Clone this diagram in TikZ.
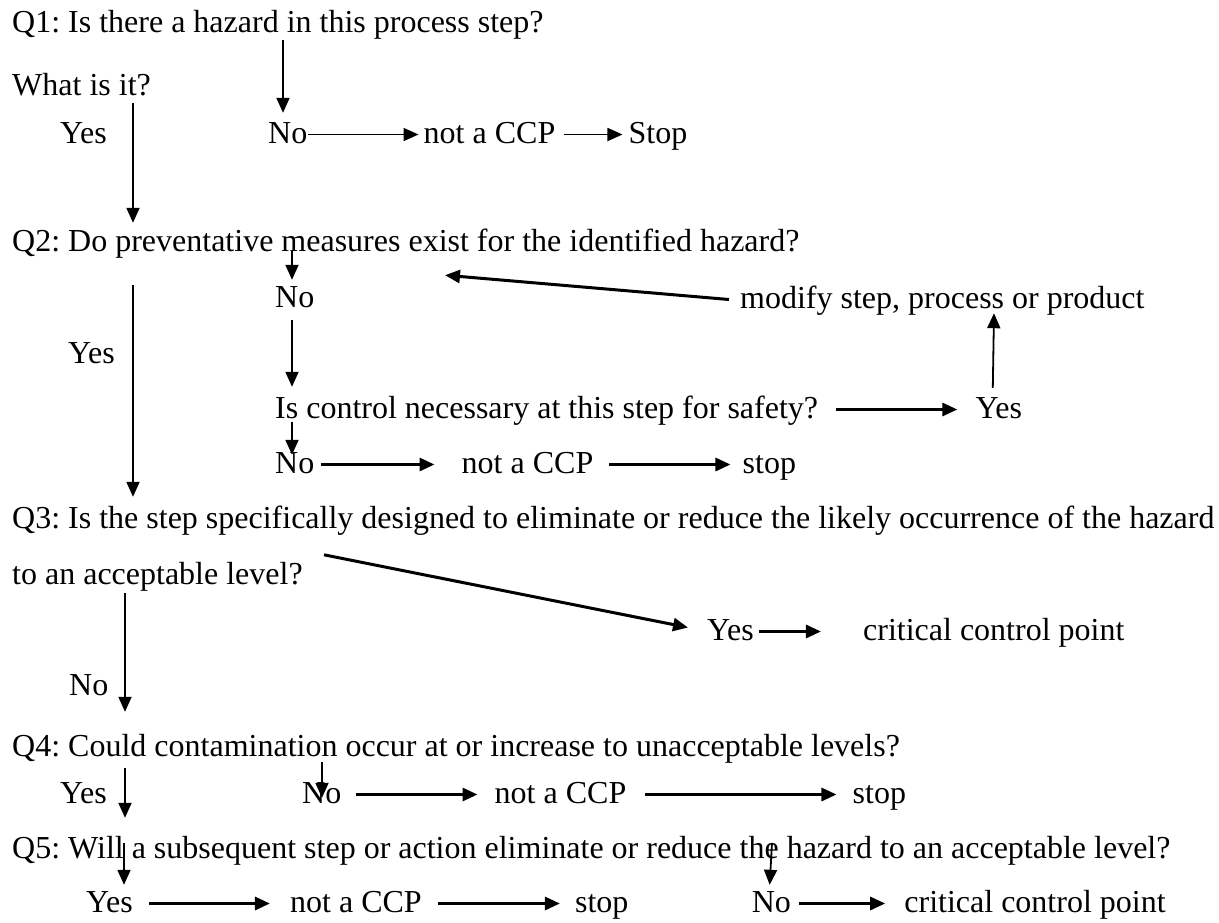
\documentclass[tikz,border=0pt]{standalone}
\usepackage{fontspec}
\setmainfont{Liberation Serif}
\usetikzlibrary{positioning, arrows.meta}
\frenchspacing

\begin{document}
\begin{tikzpicture}[x=1pt, y=-1pt, >={Triangle[length=15pt,width=13pt]},
    txt/.style={inner sep=0pt, text height=23pt, text depth=6pt},
    flow/.style={->, line width=1.8pt},
    flowthick/.style={->, line width=3pt},
    font=\fontsize{32pt}{38pt}\selectfont]
    \useasboundingbox (0,0) rectangle (1219,922);

    % Q1
    \node[txt, anchor=base west] (q1) at (12,32) {Q1: Is there a hazard in this process step?};
    \node[txt, anchor=base west] (what) at (12,95) {What is it?};
    \node[txt, anchor=base west] (yes1) at (60,143) {Yes};
    \node[txt, anchor=base west] (no1) at (268,143) {No};
    \node[txt, right=116pt of no1] (notccp1) {not a CCP};
    \node[txt, right=73pt of notccp1] (stop1) {Stop};

    % Q2
    \node[txt, anchor=base west] (q2) at (12,251) {Q2: Do preventative measures exist for the identified hazard?};
    \node[txt, anchor=base west] (no2) at (275,307) {No};
    \node[txt, anchor=base west] (modify) at (740,308) {modify step, process or product};
    \node[txt, anchor=base west] (yes2) at (68,363) {Yes};
    \node[txt, anchor=base west] (control) at (275,418) {Is control necessary at this step for safety?};
    \node[txt, right=157pt of control] (yes3) {Yes};
    \node[txt, anchor=base west] (no3) at (275,473) {No};
    \node[txt, right=147pt of no3] (notccp2) {not a CCP};
    \node[txt, right=149pt of notccp2] (stop2) {stop};

    % Q3
    \node[txt, anchor=base west] (q3) at (12,528) {Q3: Is the step specifically designed to eliminate or reduce the likely occurrence of the hazard};
    \node[txt, anchor=base west] (q3b) at (12,584) {to an acceptable level?};
    \node[txt, anchor=base west] (yes4) at (707,640) {Yes};
    \node[txt, right=109pt of yes4] (ccpoint1) {critical control point};
    \node[txt, anchor=base west] (no4) at (69,695) {No};

    % Q4
    \node[txt, anchor=base west] (q4) at (12,756) {Q4: Could contamination occur at or increase to unacceptable levels?};
    \node[txt, anchor=base west] (yes5) at (60,803) {Yes};
    \node[txt, anchor=base west] (no5) at (302,803) {No};
    \node[txt, right=153pt of no5] (notccp3) {not a CCP};
    \node[txt, right=226pt of notccp3] (stop3) {stop};

    % Q5
    \node[txt, anchor=base west] (q5) at (12,858) {Q5: Will a subsequent step or action eliminate or reduce the hazard to an acceptable level?};
    \node[txt, anchor=base west] (yes6) at (86,912) {Yes};
    \node[txt, right=157pt of yes6] (notccp4) {not a CCP};
    \node[txt, right=153pt of notccp4] (stop4) {stop};
    \node[txt, right=123pt of stop4] (no6) {No};
    \node[txt, right=113pt of no6] (ccpoint2) {critical control point};

    \draw[flow] ([xshift=271pt, yshift=-2pt]q1.south west) -- ([xshift=15pt, yshift=7pt]no1.north west);
    \draw[flow] ([xshift=121pt, yshift=-2pt]what.south west) -- ([xshift=121pt, yshift=5pt]q2.north west);
    \draw[flow] (no1.east) -- ([xshift=-5pt]notccp1.west);
    \draw[flow] ([xshift=9pt]notccp1.east) -- ([xshift=-6pt]stop1.west);

    \draw[flow] ([xshift=280pt, yshift=6pt]q2.south west) -- ([xshift=17pt, yshift=4pt]no2.north west);
    \draw[flow] ([xshift=121pt, yshift=-28pt]q2.south west) -- ([xshift=121pt, yshift=8pt]q3.north west);
    \draw[flowthick] ([xshift=-11pt]modify.west) -- ([xshift=433pt, yshift=-18pt]q2.south west);
    \draw[flow] ([xshift=17pt, yshift=-7pt]no2.south west) -- ([xshift=17pt, yshift=8pt]control.north west);
    \draw[flowthick] ([xshift=18pt]control.east) -- ([xshift=-18pt]yes3.west);
    \draw[flow] ([xshift=-6pt, yshift=7pt]yes3.north) -- ([xshift=254pt, yshift=1pt]modify.south west);
    \draw[flow] ([xshift=17pt, yshift=2pt]control.south west) -- ([xshift=17pt, yshift=-5pt]no3.north west);
    \draw[flowthick] ([xshift=6pt]no3.east) -- ([xshift=-27pt]notccp2.west);
    \draw[flowthick] ([xshift=16pt]notccp2.east) -- ([xshift=-12pt]stop2.west);

    \draw[flowthick] ([xshift=312pt, yshift=6pt]q3b.north west) -- ([xshift=-19pt, yshift=4pt]yes4.west);
    \draw[flowthick] ([xshift=5pt]yes4.east) -- ([xshift=-42pt]ccpoint1.west);
    \draw[flow] ([xshift=113pt, yshift=-3pt]q3b.south west) -- ([xshift=113pt, yshift=21pt]q4.north west);

    \draw[flow] ([xshift=113pt, yshift=-6pt]q4.south west) -- ([xshift=113pt, yshift=17pt]q5.north west);
    \draw[flow] ([xshift=310pt]q4.south west) -- ([xshift=20pt, yshift=-18pt]no5.north west);
    \draw[flowthick] ([xshift=14pt]no5.east) -- ([xshift=-17pt]notccp3.west);
    \draw[flowthick] ([xshift=19pt]notccp3.east) -- ([xshift=-16pt]stop3.west);

    \draw[flow] ([xshift=112pt, yshift=-8pt]q5.north west) -- ([xshift=38pt, yshift=4pt]yes6.north west);
    \draw[flow] ([xshift=760pt, yshift=-8pt]q5.north west) -- ([xshift=18pt, yshift=4pt]no6.north west);
    \draw[flowthick] ([xshift=16pt]yes6.east) -- ([xshift=-20pt]notccp4.west);
    \draw[flowthick] ([xshift=16pt]notccp4.east) -- ([xshift=-15pt]stop4.west);
    \draw[flowthick] ([xshift=8pt]no6.east) -- ([xshift=-19pt]ccpoint2.west);
\end{tikzpicture}
\end{document}
